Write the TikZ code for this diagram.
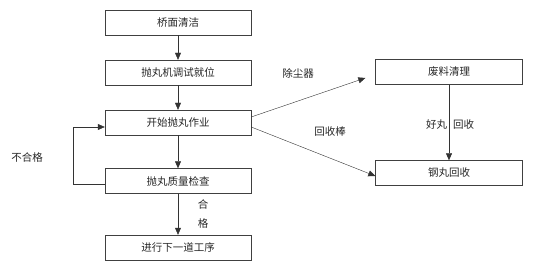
\documentclass[tikz,border=0pt]{standalone}
\usepackage{fontspec}
\newfontfamily\cjk{Noto Sans CJK SC}
\usetikzlibrary{arrows.meta}
\begin{document}
\begin{tikzpicture}[
    x=1pt, y=-1pt,
    every node/.style={font=\cjk\fontsize{10.5}{13}\selectfont, text=black!85},
    stepbox/.style={draw=black!75, rectangle, minimum width=146pt, minimum height=25pt, inner sep=0pt},
    flow/.style={draw=black!80, -{Triangle[length=7pt,width=6pt]}, thin}
]
\useasboundingbox (0,0) rectangle (548,264);
% main column
\node[stepbox] (clean) at (178,22.5) {桥面清洁};
\node[stepbox] (adjust) at (178,72.5) {抛丸机调试就位};
\node[stepbox] (blast) at (178,122.5) {开始抛丸作业};
\node[stepbox] (check) at (178,181) {抛丸质量检查};
\node[stepbox] (next) at (178,247.5) {进行下一道工序};
% right column
\node[stepbox, minimum width=147pt] (waste) at (449,72) {废料清理};
\node[stepbox, minimum width=147pt] (steel) at (449,173) {钢丸回收};

\draw[flow] (clean) -- (adjust);
\draw[flow] (adjust) -- (blast);
\draw[flow] (blast) -- (check);
\draw[flow] (check) -- (next);
\draw[flow] ([yshift=5.5pt]blast.east) -- ([xshift=-10pt,yshift=-6pt]waste.west);
\draw[flow] ([yshift=-4.5pt]blast.east) -- ([yshift=-3pt]steel.west);
\draw[flow] (waste) -- (steel);
\draw[flow] ([yshift=-3pt]check.west) -- ++(-32,0) |- ([yshift=-4.5pt]blast.west);

% labels
\node (dust) at (298,73) {除尘器};
\node (rod) at (330,132) {回收棒};
\node (good) at (450,125) {好丸\hspace{6pt}回收};
\node (fail) at (27,158) {不合格};
\node[align=center, font=\cjk\fontsize{10.5}{19}\selectfont] (pass) at (203,213.5) {合\\格};
\end{tikzpicture}
\end{document}
